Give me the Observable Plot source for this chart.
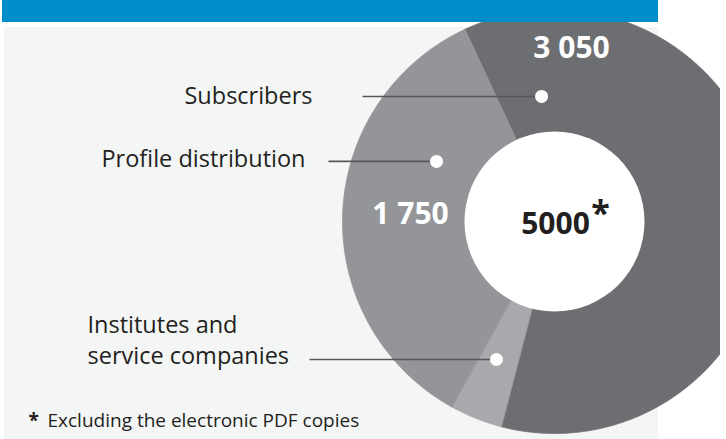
<!DOCTYPE html>
<html><head><meta charset="utf-8">
<script src="https://cdn.jsdelivr.net/npm/d3@7"></script>
<script src="https://cdn.jsdelivr.net/npm/@observablehq/plot@0.6"></script>
<style>
html,body{margin:0;padding:0;background:#fff;}
#wrap{position:relative;width:726px;height:439px;overflow:hidden;font-family:"Open Sans",sans-serif;}
#panel{position:absolute;left:4px;top:27px;width:654px;height:412px;background:#f4f5f5;}
#bar{position:absolute;left:2px;top:0;width:656px;height:22px;background:#008dc9;}
#chart{position:absolute;left:0;top:0;width:720px;height:439px;overflow:hidden;}
#chart svg{background:transparent;}
</style></head><body>
<div id="wrap"><div id="panel"></div><div id="chart"></div><div id="bar"></div></div>
<script>
// ---- data ----
const categories = ["Subscribers", "Institutes and\nservice companies", "Profile distribution"];
const values = [3050, 200, 1750];
const valueLabels = ["3 050", "", "1 750"];
const totalLabel = "5000";
const footnoteText = "Excluding the electronic PDF copies";

// ---- styles / layout (not data) ----
const colors = ["#6d6e71", "#a7a9ac", "#939598"];
const W = 720, H = 439;
const cx = 554, cy = 221, R = 212, R0 = 90;
const startDeg = -25;
const rad = Math.PI / 180;
// polar positions (deg clockwise from top, radius px) for value labels and leader dots
const valueLabelPos = [[5.6, 174.4], null, [-87, 144.2]];
const dotPos = [[-5.9, 125.7], [202.8, 149.7], [-63, 132.4]];
// where each leader line starts (x) and label anchoring
const leaderStartX = [362, 309, 328];
const labelLayout = [
  {x: 312, anchor: "end", dy: 0},
  {x: 87, anchor: "start", dy: -21},
  {x: 305, anchor: "end", dy: -1.5}
];

const data = categories.map((c, i) => ({name: c, value: values[i], color: colors[i], label: valueLabels[i]}));
const pie = d3.pie().sort(null).value(d => d.value)
  .startAngle(startDeg * rad).endAngle((startDeg + 360) * rad);
const arcs = pie(data);

const pt = (a, rr) => [cx + rr * Math.sin(a), cy - rr * Math.cos(a)];
function sector(a0, a1, ri, ro) {
  const n = Math.max(2, Math.ceil((a1 - a0) / (0.5 * rad)));
  const pts = [];
  for (let k = 0; k <= n; k++) pts.push(pt(a0 + (a1 - a0) * k / n, ro));
  for (let k = n; k >= 0; k--) pts.push(pt(a0 + (a1 - a0) * k / n, ri));
  return pts;
}

const sliceMarks = arcs.map(a => Plot.line(sector(a.startAngle, a.endAngle, R0 - 2, R), {
  x: d => d[0], y: d => d[1], curve: "linear-closed",
  fill: a.data.color, stroke: a.data.color, strokeWidth: 0.8
}));

const valueTexts = data.map((d, i) => {
  if (!valueLabelPos[i]) return null;
  const [deg, rr] = valueLabelPos[i];
  const [x, y] = pt(deg * rad, rr);
  return {x, y, text: d.label};
}).filter(Boolean);

const leaders = data.map((d, i) => {
  const [deg, rr] = dotPos[i];
  const [x, y] = pt(deg * rad, rr);
  return {x1: leaderStartX[i], x2: x, y, name: d.name, lx: labelLayout[i].x, anchor: labelLayout[i].anchor, ly: y + labelLayout[i].dy};
});

const font = "'Open Sans', sans-serif";
const textColor = "#231f20";

const chart = Plot.plot({
  width: W, height: H, margin: 0,
  x: {domain: [0, W], range: [0, W], axis: null},
  y: {domain: [0, H], range: [0, H], axis: null},
  style: {background: "transparent", overflow: "hidden"},
  marks: [
    ...sliceMarks,
    Plot.dot([{x: cx, y: cy}], {x: "x", y: "y", r: R0, fill: "white", stroke: "none"}),
    Plot.link(leaders, {x1: "x1", x2: "x2", y1: "y", y2: "y", stroke: "#555759", strokeWidth: 1.6}),
    Plot.dot(leaders, {x: "x2", y: "y", r: 6.5, fill: "white", stroke: "none"}),
    Plot.text(leaders.filter(d => d.anchor === "end"), {x: "lx", y: "ly", text: "name", textAnchor: "end",
      fontSize: 23.5, fontFamily: font, fill: textColor}),
    Plot.text(leaders.filter(d => d.anchor === "start"), {x: "lx", y: "ly", text: "name", textAnchor: "start",
      fontSize: 23.5, lineHeight: 1.32, fontFamily: font, fill: textColor}),
    Plot.text(valueTexts, {x: "x", y: "y", text: "text", fontSize: 30, fontWeight: "bold", fontFamily: font, fill: "white"}),
    Plot.text([{x: cx + 1, y: cy + 2.5, t: totalLabel}], {x: "x", y: "y", text: "t", fontSize: 30, fontWeight: "bold", fontFamily: font, fill: textColor}),
    Plot.text([{x: cx + 46, y: cy - 7, t: "*"}], {x: "x", y: "y", text: "t", fontSize: 34, fontWeight: "bold", fontFamily: font, fill: textColor}),
    Plot.text([{x: 28, y: 420.5, t: "*"}], {x: "x", y: "y", text: "t", textAnchor: "start", fontSize: 19, fontWeight: "bold", fontFamily: font, fill: textColor}),
    Plot.text([{x: 47, y: 420.5, t: footnoteText}], {x: "x", y: "y", text: "t", textAnchor: "start", fontSize: 19, fontFamily: font, fill: textColor})
  ]
});
document.getElementById("chart").appendChild(chart);
</script>
</body></html>
